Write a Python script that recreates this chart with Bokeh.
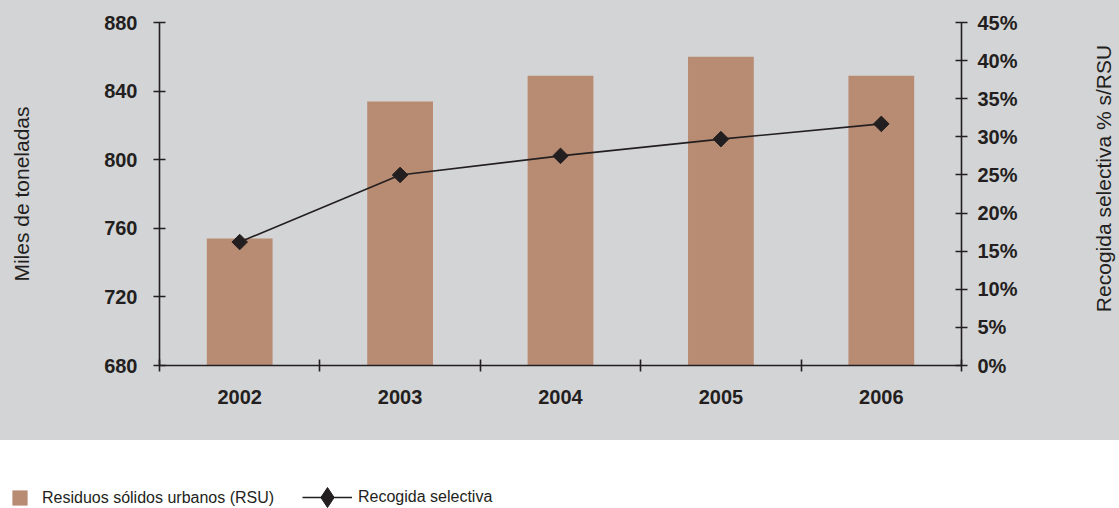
import math
from bokeh.plotting import figure
from bokeh.models import (Range1d, LinearAxis, FixedTicker, PrintfTickFormatter,
                          Legend, LegendItem, ColumnDataSource, Label)
from bokeh.layouts import column, row
from bokeh.embed import file_html
from bokeh.resources import INLINE

years = ["2002", "2003", "2004", "2005", "2006"]
rsu = [754, 834, 849, 860, 849]            # miles de toneladas
recogida = [16.2, 25.0, 27.5, 29.7, 31.7]  # % s/RSU
left_ticks = [680, 720, 760, 800, 840, 880]
right_ticks = [0, 5, 10, 15, 20, 25, 30, 35, 40, 45]

GRAY = "#d3d4d6"
BAR = "#b88b73"
INK = "#231f20"
FONT = "Liberation Sans"
W, H_MAIN, H_LEG = 1119, 440, 68
STRIP = 70                      # strip on the right that holds the right axis title
LEFT, RIGHT = 159, 158 - STRIP

xpos = [i + 0.5 for i in range(len(years))]
src = ColumnDataSource(dict(x=xpos, rsu=rsu, rec=recogida))

p = figure(width=W - STRIP, height=H_MAIN, output_backend="svg", toolbar_location=None,
           x_range=Range1d(0, len(years)), y_range=Range1d(left_ticks[0], left_ticks[-1]),
           x_axis_location=None, y_axis_location=None,
           min_border_left=LEFT, min_border_right=RIGHT, min_border_top=22, min_border_bottom=75)
p.background_fill_color = GRAY
p.border_fill_color = GRAY
p.outline_line_color = None
p.grid.visible = False
p.frame_align = False
p.extra_y_ranges = {"pct": Range1d(right_ticks[0], right_ticks[-1])}

p.vbar(x="x", top="rsu", bottom=left_ticks[0], width=0.41, source=src,
       fill_color=BAR, line_color=None)
p.line(x="x", y="rec", source=src, y_range_name="pct", line_color=INK, line_width=1.6)
p.scatter(x="x", y="rec", source=src, y_range_name="pct", marker="square", angle=math.pi/4,
          size=11, fill_color=INK, line_color=INK)

def style(ax, size="20px"):
    ax.axis_line_color = INK
    ax.axis_line_width = 1.6
    ax.major_tick_line_color = INK
    ax.major_tick_line_width = 1.6
    ax.minor_tick_line_color = INK
    ax.minor_tick_line_width = 1.6
    ax.major_label_text_font = FONT
    ax.major_label_text_font_size = size
    ax.major_label_text_font_style = "bold"
    ax.major_label_text_color = INK
    ax.axis_label_text_font = FONT
    ax.axis_label_text_font_size = "21px"
    ax.axis_label_text_font_style = "normal"
    ax.axis_label_text_color = INK

xax = LinearAxis(ticker=FixedTicker(ticks=xpos, minor_ticks=list(range(len(years) + 1))),
                 major_label_overrides={x: y for x, y in zip(xpos, years)})
style(xax)
xax.major_tick_in = 0
xax.major_tick_out = 0
xax.minor_tick_in = 6
xax.minor_tick_out = 6
xax.major_label_standoff = 18
p.add_layout(xax, "below")

lax = LinearAxis(ticker=FixedTicker(ticks=left_ticks, minor_ticks=[]), axis_label="Miles de toneladas")
style(lax)
lax.major_tick_in = 6
lax.major_tick_out = 6
lax.minor_tick_in = 0
lax.minor_tick_out = 0
lax.major_label_standoff = 16
lax.axis_label_standoff = 68
p.add_layout(lax, "left")

rax = LinearAxis(y_range_name="pct", ticker=FixedTicker(ticks=right_ticks, minor_ticks=[]),
                 formatter=PrintfTickFormatter(format="%d%%"))
style(rax)
rax.major_tick_in = 6
rax.major_tick_out = 6
rax.minor_tick_in = 0
rax.minor_tick_out = 0
rax.major_label_standoff = 10
p.add_layout(rax, "right")

# gray strip holding the right axis title, read bottom-to-top
r = figure(width=STRIP, height=H_MAIN, output_backend="svg", toolbar_location=None,
           x_range=Range1d(0, STRIP), y_range=Range1d(0, H_MAIN),
           x_axis_location=None, y_axis_location=None,
           min_border_left=0, min_border_right=0, min_border_top=0, min_border_bottom=0)
r.frame_align = False
r.outline_line_color = None
r.grid.visible = False
r.background_fill_color = GRAY
r.border_fill_color = GRAY
r.add_layout(Label(x=54, y=H_MAIN - 178, text="Recogida selectiva % s/RSU",
                   angle=90, angle_units="deg", text_align="center", text_baseline="middle",
                   text_font=FONT, text_font_size="21px", text_color=INK))

# legend strip (white)
q = figure(width=W, height=H_LEG, output_backend="svg", toolbar_location=None,
           x_range=Range1d(100, 101), y_range=Range1d(100, 101),
           x_axis_location=None, y_axis_location=None,
           min_border_left=0, min_border_right=0, min_border_top=0, min_border_bottom=0)
q.frame_align = False
q.outline_line_color = None
q.grid.visible = False
q.background_fill_color = "white"
q.border_fill_color = "white"
r_bar = q.vbar(x="x", top="rsu", bottom=0, width=0.41, source=src,
               fill_color=BAR, line_color=None, visible=False)
r_line = q.line(x="x", y="rec", source=src, line_color=INK, line_width=1.6, visible=False)
r_mark = q.scatter(x="x", y="rec", source=src, marker="diamond",
                   fill_color=INK, line_color=INK, visible=False)

def mk_legend(items, loc, gw, gh, standoff):
    lg = Legend(items=items, location=loc, orientation="horizontal",
                glyph_width=gw, glyph_height=gh, label_standoff=standoff,
                padding=0, margin=0, spacing=0, border_line_color=None,
                background_fill_alpha=0, label_text_font=FONT,
                label_text_font_size="16px", label_text_color=INK, label_height=gh)
    q.add_layout(lg, "center")

mk_legend([LegendItem(label="Residuos sólidos urbanos (RSU)", renderers=[r_bar])], (10, 1), 19, 19, 13)
mk_legend([LegendItem(label="Recogida selectiva", renderers=[r_line, r_mark])], (302, -14), 50, 50, 6)

top = row(p, r, spacing=0, styles={"background-color": GRAY})
layout = column(top, q, spacing=0)
open("out.html", "w").write(file_html(layout, INLINE))
